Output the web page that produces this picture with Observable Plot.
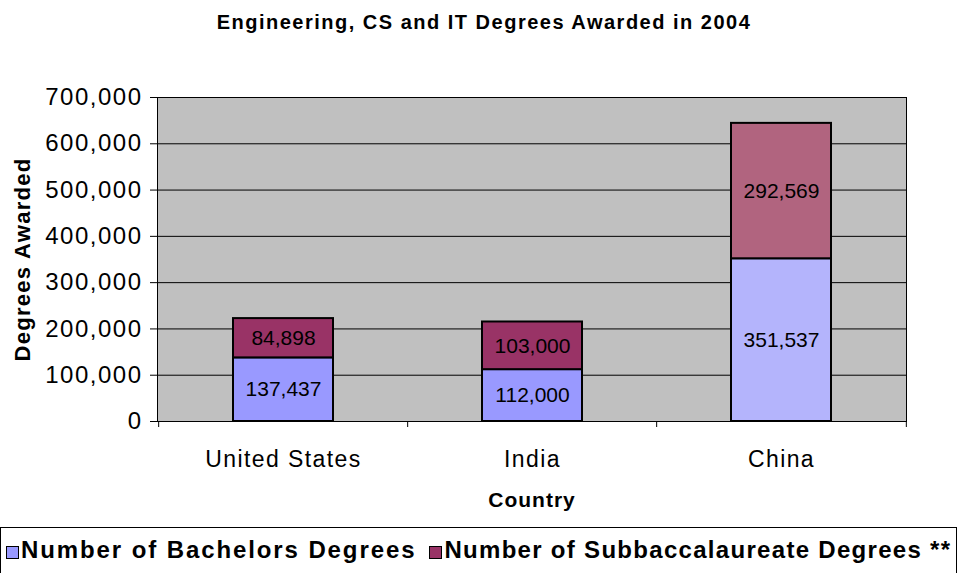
<!DOCTYPE html>
<html>
<head>
<meta charset="utf-8">
<script src="https://cdn.jsdelivr.net/npm/d3@7"></script>
<script src="https://cdn.jsdelivr.net/npm/@observablehq/plot@0.6"></script>
<style>
  html, body { margin: 0; padding: 0; background: #fff; }
  body { width: 958px; height: 573px; overflow: hidden; font-family: "Liberation Sans", Arial, sans-serif; position: relative; }
  #title { height: 50px; box-sizing: border-box; padding-top: 11px; text-align: center; font-weight: bold; font-size: 20px; letter-spacing: 1.5px; padding-left: 10px; }
  #legend { position: absolute; left: 0; top: 527px; width: 957px; height: 50px; border: 1px solid #000; box-sizing: border-box; font-weight: bold; font-size: 24px; display: flex; align-items: flex-start; padding-top: 8px; padding-left: 5px; white-space: nowrap; }
  .sw { display: inline-block; width: 11px; height: 11px; border: 1px solid #000; margin-right: 2px; margin-top: 10px; }
  .item { display: flex; align-items: flex-start; }
  .item0 { letter-spacing: 1.9px; margin-right: 13px; }
  .item1 { letter-spacing: 1.3px; }
</style>
</head>
<body>
<div id="title">Engineering, CS and IT Degrees Awarded in 2004</div>
<div id="chart"></div>
<div id="legend"></div>
<script>
const countries = ["United States", "India", "China"];
const seriesNames = ["Number of Bachelors Degrees", "Number of Subbaccalaureate Degrees **"];
const bachelors = [137437, 112000, 351537];
const subbacc = [84898, 103000, 292569];
const yTicks = [0, 100000, 200000, 300000, 400000, 500000, 600000, 700000];

const colors = {[seriesNames[0]]: "#9999ff", [seriesNames[1]]: "#993366"};
const chinaColors = {[seriesNames[0]]: "#b4b4fc", [seriesNames[1]]: "#b1647f"};

const data = [];
countries.forEach((c, i) => {
  data.push({country: c, series: seriesNames[0], value: bachelors[i]});
  data.push({country: c, series: seriesNames[1], value: subbacc[i]});
});

const W = 958, H = 475, mL = 157, mR = 52, mT = 47, mB = 104;
const step = (W - mL - mR) / countries.length;
const fillFor = d => (d.country === "China" ? chinaColors : colors)[d.series];
const fmt = d3.format(",");

const chart = Plot.plot({
  width: W, height: H,
  marginLeft: mL, marginRight: mR, marginTop: mT, marginBottom: mB,
  style: {fontFamily: '"Liberation Sans", Arial, sans-serif', color: "#000", background: "transparent"},
  x: {domain: countries, paddingInner: 0.6, paddingOuter: 0.3, axis: null},
  y: {domain: [0, 700000], ticks: yTicks, axis: null},
  marks: [
    Plot.frame({fill: "#c0c0c0", stroke: null}),
    Plot.gridY(yTicks, {stroke: "#000", strokeOpacity: 1, strokeWidth: 1}),
    Plot.barY(data, {x: "country", y: "value", fill: fillFor, stroke: "#000", strokeWidth: 2}),
    Plot.text(data, Plot.stackY({x: "country", y: "value", text: d => fmt(d.value), fontSize: 21, fill: "#000"})),
    Plot.frame({stroke: "#000", strokeWidth: 1}),
    Plot.axisY(yTicks, {tickFormat: fmt, fontSize: 24, tickSize: 7, tickPadding: 8, label: null}),
    Plot.axisX({fontSize: 23, tickSize: 0, tickPadding: 29, label: null}),
    Plot.ruleX(countries, {x: d => d, dx: -step / 2, insetTop: H - mT - mB, insetBottom: -6, stroke: "#000"}),
    Plot.ruleX(countries.slice(-1), {x: d => d, dx: step / 2, insetTop: H - mT - mB, insetBottom: -6, stroke: "#000"}),
    Plot.text(["Country"], {frameAnchor: "bottom", dy: 85, fontSize: 21, fontWeight: "bold", fill: "#000"}),
    Plot.text(["Degrees Awarded"], {frameAnchor: "left", textAnchor: "middle", dx: -135, rotate: -90, fontSize: 22, fontWeight: "bold", fill: "#000"})
  ]
});
const sel = d3.select(chart);
sel.selectAll('g[aria-label="y-axis tick label"] text').style("letter-spacing", "1.5px");
sel.selectAll('g[aria-label="x-axis tick label"] text').style("letter-spacing", "1.4px");
sel.selectAll('g[aria-label="text"] text').filter(function() { return this.textContent === "Country"; }).style("letter-spacing", "1px");
sel.selectAll('g[aria-label="text"] text').filter(function() { return this.textContent === "Degrees Awarded"; }).style("letter-spacing", "1.3px");
document.getElementById("chart").appendChild(chart);

const legend = document.getElementById("legend");
seriesNames.forEach((s, i) => {
  const it = document.createElement("div");
  it.className = "item item" + i;
  const sw = document.createElement("span");
  sw.className = "sw";
  sw.style.background = colors[s];
  it.appendChild(sw);
  const t = document.createElement("span");
  t.textContent = s;
  it.appendChild(t);
  legend.appendChild(it);
});
</script>
</body>
</html>
